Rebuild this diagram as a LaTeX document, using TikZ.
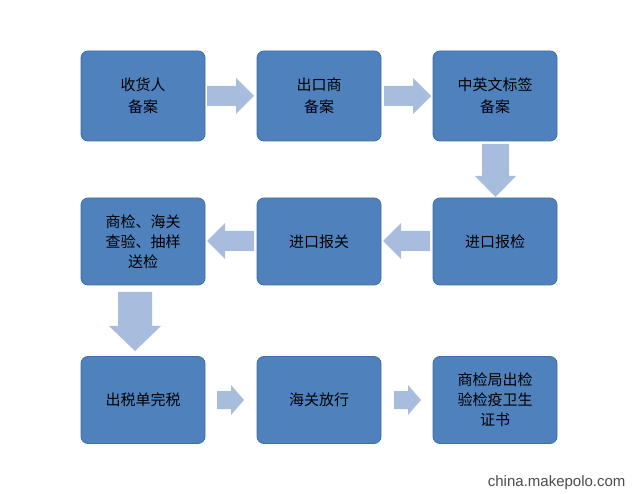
\documentclass[tikz,border=0pt]{standalone}
\usepackage{fontspec}
\newfontfamily\cjk{Noto Sans CJK SC}
\setsansfont{Liberation Sans}
\begin{document}
\begin{tikzpicture}[x=1pt,y=-1pt,
  box/.style={draw=boxedge,fill=boxblue,rounded corners=7pt,minimum width=124pt,minimum height=90pt,
    align=center,font=\cjk\fontsize{15}{22}\selectfont,text=black,line width=0.8pt},
  arr/.style={fill=arrblue,draw=none}]
\definecolor{boxblue}{HTML}{4F81BD}
\definecolor{boxedge}{HTML}{3F6EA6}
\definecolor{arrblue}{HTML}{A8BCDD}
\useasboundingbox (0,0) rectangle (632,494);
\fill[white] (0,0) rectangle (632,494);
\node[box] (a) at (143,96) {收货人\\备案};
\node[box] (b) at (319,96) {出口商\\备案};
\node[box] (c) at (495,96) {中英文标签\\备案};
\node[box,minimum height=87pt] (d) at (495,241.5) {进口报检};
\node[box,minimum height=87pt] (e) at (319,241.5) {进口报关};
\node[box,minimum height=87pt,font=\cjk\fontsize{15}{20}\selectfont] (f) at (143,241.5) {商检、海关\\查验、抽样\\送检};
\node[box,minimum height=87pt] (g) at (143,400) {出税单完税};
\node[box,minimum height=87pt] (h) at (319,400) {海关放行};
\node[box,minimum height=87pt,font=\cjk\fontsize{15}{20}\selectfont] (i) at (495,400) {商检局出检\\验检疫卫生\\证书};
% row1 arrows
\fill[arr] (207,86) -- (236,86) -- (236,78) -- (254,96) -- (236,114) -- (236,106) -- (207,106) -- cycle;
\fill[arr] (384,86) -- (413,86) -- (413,78) -- (431,96) -- (413,114) -- (413,106) -- (384,106) -- cycle;
% down arrow 1
\fill[arr] (482,144) -- (509,144) -- (509,176) -- (516,176) -- (495.5,197) -- (475,176) -- (482,176) -- cycle;
% row2 left arrows
\fill[arr] (430,231) -- (401,231) -- (401,223) -- (383,241) -- (401,259) -- (401,251) -- (430,251) -- cycle;
\fill[arr] (254,231) -- (225,231) -- (225,223) -- (207,241) -- (225,259) -- (225,251) -- (254,251) -- cycle;
% down arrow 2
\fill[arr] (118,292) -- (152,292) -- (152,326) -- (161,326) -- (135,351) -- (109,326) -- (118,326) -- cycle;
% row3 arrows
\fill[arr] (217,391) -- (231,391) -- (231,385) -- (244,400) -- (231,415) -- (231,409) -- (217,409) -- cycle;
\fill[arr] (394,391) -- (408,391) -- (408,385) -- (421,400) -- (408,415) -- (408,409) -- (394,409) -- cycle;
\node[font=\sffamily\fontsize{15}{18}\selectfont,text=black!70,anchor=east] (w) at (629,483) {china.makepolo.com};
\end{tikzpicture}
\end{document}
